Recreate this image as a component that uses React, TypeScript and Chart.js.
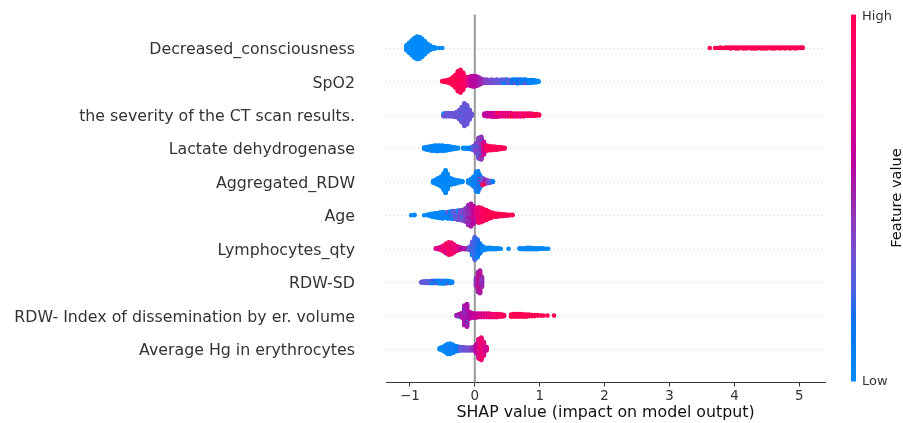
import React, { useEffect, useRef } from 'react';
import { Chart, registerables } from 'chart.js';

Chart.register(...registerables);

// Each bin: [SHAP value, number of samples at that value, normalised feature value (0 = low, 1 = high)]
type Bin = [number, number, number];

const featureNames: string[] = [
  'Decreased_consciousness',
  'SpO2',
  'the severity of the CT scan results.',
  'Lactate dehydrogenase',
  'Aggregated_RDW',
  'Age',
  'Lymphocytes_qty',
  'RDW-SD',
  'RDW- Index of dissemination by er. volume',
  'Average Hg in erythrocytes',
];

const decreasedConsciousness: Bin[] = [
  [-1.05, 12, 0], [-1.01, 22, 0], [-0.97, 32, 0], [-0.93, 42, 0], [-0.89, 48, 0], [-0.85, 46, 0],
  [-0.81, 38, 0], [-0.77, 28, 0], [-0.73, 18, 0], [-0.69, 10, 0], [-0.65, 5, 0], [-0.61, 3, 0],
  [-0.55, 1, 0], [-0.5, 1, 0],
  [3.62, 1, 1], [3.7, 1, 1], [3.74, 1, 1], [3.78, 2, 1], [3.82, 1, 1], [3.86, 2, 1], [3.9, 2, 1],
  [3.94, 3, 1], [3.98, 2, 1], [4.02, 3, 1], [4.06, 3, 1], [4.1, 2, 1], [4.14, 3, 1], [4.18, 3, 1],
  [4.22, 2, 1], [4.26, 3, 1], [4.3, 3, 1], [4.34, 3, 1], [4.38, 2, 1], [4.42, 3, 1], [4.46, 3, 1],
  [4.5, 3, 1], [4.54, 2, 1], [4.58, 3, 1], [4.62, 3, 1], [4.66, 2, 1], [4.7, 3, 1], [4.74, 2, 1],
  [4.78, 3, 1], [4.82, 2, 1], [4.86, 3, 1], [4.9, 2, 1], [4.94, 3, 1], [4.98, 2, 1], [5.02, 2, 1],
  [5.05, 2, 1],
];

const spo2: Bin[] = [
  [-0.5, 2, 1], [-0.46, 4, 1], [-0.42, 6, 1], [-0.38, 10, 1], [-0.34, 18, 1], [-0.3, 28, 1],
  [-0.26, 40, 1], [-0.26, 4, 0.65], [-0.22, 46, 0.97], [-0.22, 4, 0.7], [-0.18, 34, 0.95],
  [-0.18, 4, 0.75], [-0.14, 20, 0.9], [-0.1, 18, 0.75], [-0.06, 22, 0.62], [-0.02, 24, 0.6],
  [0.02, 22, 0.58], [0.06, 18, 0.55], [0.1, 12, 0.5], [0.14, 8, 0.45], [0.18, 8, 0.4],
  [0.22, 7, 0.38], [0.26, 8, 0.35], [0.3, 7, 0.35], [0.34, 8, 0.3], [0.38, 7, 0.32], [0.42, 8, 0.25],
  [0.46, 5, 0.3], [0.46, 3, 0.05], [0.5, 8, 0.22], [0.54, 7, 0.28], [0.58, 8, 0.15], [0.62, 5, 0.1],
  [0.62, 3, 0.35], [0.66, 9, 0.12], [0.7, 8, 0.2], [0.74, 8, 0.08], [0.78, 5, 0.1], [0.78, 3, 0.35],
  [0.82, 7, 0.08], [0.86, 7, 0.04], [0.9, 6, 0.08], [0.94, 5, 0.03], [0.98, 3, 0],
];

const ctSeverity: Bin[] = [
  [-0.48, 5, 0.32], [-0.48, 2, 0.02], [-0.44, 8, 0.32], [-0.4, 8, 0.3], [-0.36, 8, 0.32],
  [-0.32, 9, 0.32], [-0.28, 12, 0.32], [-0.24, 20, 0.32], [-0.2, 31, 0.32], [-0.2, 3, 0.02],
  [-0.16, 46, 0.32], [-0.16, 4, 0.02], [-0.12, 39, 0.32], [-0.12, 3, 0.02], [-0.08, 22, 0.32],
  [-0.05, 6, 0.32],
  [0.15, 6, 0.6], [0.19, 8, 0.62], [0.23, 8, 0.65], [0.27, 9, 0.65], [0.31, 9, 0.7], [0.35, 6, 0.72],
  [0.35, 3, 1], [0.39, 8, 0.8], [0.43, 8, 0.75], [0.47, 8, 0.85], [0.51, 8, 0.75], [0.55, 5, 0.8],
  [0.55, 3, 1], [0.59, 7, 0.9], [0.63, 7, 0.8], [0.67, 7, 0.92], [0.71, 7, 0.8], [0.75, 7, 0.95],
  [0.79, 6, 0.85], [0.83, 6, 0.95], [0.87, 6, 0.88], [0.91, 5, 0.95], [0.95, 4, 1], [0.99, 3, 1],
];

const lactateDehydrogenase: Bin[] = [
  [-0.78, 4, 0.02], [-0.74, 7, 0.02], [-0.7, 9, 0.02], [-0.66, 11, 0.05], [-0.62, 12, 0.02],
  [-0.58, 13, 0.02], [-0.54, 12, 0.05], [-0.5, 12, 0.02], [-0.46, 11, 0.02], [-0.42, 10, 0.05],
  [-0.38, 8, 0.02], [-0.34, 6, 0.02], [-0.3, 4, 0.02], [-0.26, 2, 0.02], [-0.18, 2, 0.02],
  [-0.14, 3, 0.02], [-0.1, 3, 0.05], [-0.06, 5, 0.1], [-0.02, 10, 0.3], [0.02, 18, 0.4],
  [0.02, 4, 0.05], [0.06, 40, 0.4], [0.06, 6, 0.05], [0.1, 42, 0.45], [0.1, 4, 0.05], [0.1, 4, 0.9],
  [0.14, 22, 0.65], [0.14, 6, 1], [0.18, 12, 0.95], [0.22, 10, 0.95], [0.26, 9, 1], [0.3, 8, 0.95],
  [0.34, 7, 1], [0.38, 6, 0.95], [0.42, 4, 1], [0.46, 2, 1],
];

const aggregatedRdw: Bin[] = [
  [-0.64, 5, 0.02], [-0.6, 10, 0.02], [-0.56, 16, 0.02], [-0.52, 22, 0.02], [-0.48, 36, 0.02],
  [-0.45, 50, 0.02], [-0.42, 34, 0.02], [-0.38, 16, 0.02], [-0.34, 12, 0.02], [-0.3, 9, 0.02],
  [-0.26, 6, 0.02], [-0.22, 4, 0.02], [-0.19, 2, 0.02],
  [-0.1, 6, 0.02], [-0.06, 12, 0.02], [-0.02, 22, 0.05], [0.02, 38, 0.05], [0.02, 4, 0.35],
  [0.05, 40, 0.05], [0.05, 6, 0.4], [0.08, 22, 0.1], [0.08, 6, 0.9], [0.12, 12, 0.3], [0.12, 4, 0.95],
  [0.16, 7, 0.5], [0.16, 3, 1], [0.2, 7, 0.4], [0.24, 5, 0.3], [0.28, 2, 0.1],
];

const age: Bin[] = [
  [-0.98, 1, 0.02], [-0.93, 2, 0.02], [-0.78, 1, 0.02], [-0.73, 2, 0.02], [-0.7, 4, 0.02],
  [-0.66, 7, 0.02], [-0.62, 9, 0.02], [-0.58, 11, 0.02], [-0.54, 13, 0.02], [-0.5, 12, 0.02],
  [-0.5, 3, 0.3], [-0.46, 13, 0.05], [-0.42, 11, 0.05], [-0.42, 4, 0.3], [-0.38, 16, 0.1],
  [-0.34, 12, 0.25], [-0.34, 6, 0.02], [-0.3, 18, 0.3], [-0.26, 15, 0.32], [-0.26, 6, 0.05],
  [-0.22, 22, 0.35], [-0.18, 19, 0.38], [-0.18, 6, 0.05], [-0.14, 30, 0.42], [-0.1, 36, 0.5],
  [-0.1, 8, 0.3], [-0.06, 42, 0.55], [-0.06, 8, 0.35], [-0.02, 32, 0.6], [-0.02, 8, 0.8],
  [0.02, 22, 0.78], [0.02, 8, 0.55], [0.06, 28, 0.88], [0.06, 6, 0.6], [0.1, 26, 0.92],
  [0.1, 6, 0.6], [0.14, 26, 0.95], [0.18, 22, 0.95], [0.22, 16, 1], [0.26, 12, 1], [0.3, 8, 1],
  [0.34, 7, 1], [0.38, 6, 1], [0.42, 5, 1], [0.46, 4, 1], [0.5, 3, 1], [0.54, 2, 1], [0.58, 2, 1],
];

const lymphocytesQty: Bin[] = [
  [-0.6, 2, 0.7], [-0.56, 4, 0.75], [-0.52, 8, 0.8], [-0.48, 14, 0.85], [-0.44, 16, 0.9],
  [-0.44, 6, 0.6], [-0.4, 22, 0.9], [-0.4, 6, 1], [-0.36, 20, 0.9], [-0.36, 6, 0.6],
  [-0.32, 18, 0.85], [-0.28, 12, 0.8], [-0.24, 6, 0.7], [-0.2, 4, 0.6], [-0.16, 3, 0.55],
  [-0.12, 3, 0.5],
  [-0.08, 8, 0.3], [-0.04, 22, 0.3], [-0.04, 8, 0.05], [0.0, 40, 0.25], [0.0, 10, 0.05],
  [0.04, 30, 0.2], [0.04, 10, 0.05], [0.08, 22, 0.15], [0.12, 10, 0.05],
  [0.16, 5, 0.02], [0.2, 4, 0.02], [0.24, 4, 0.02], [0.28, 3, 0.02], [0.32, 3, 0.02], [0.36, 2, 0.02],
  [0.4, 1, 0.02], [0.52, 1, 0.02], [0.69, 2, 0.02], [0.73, 3, 0.02], [0.77, 3, 0.02], [0.81, 4, 0.02],
  [0.85, 4, 0.02], [0.89, 3, 0.02], [0.93, 3, 0.02], [0.97, 3, 0.02], [1.01, 2, 0.02], [1.05, 2, 0.02],
  [1.09, 1, 0.02], [1.13, 1, 0.02],
];

const rdwSd: Bin[] = [
  [-0.82, 3, 0.3], [-0.78, 4, 0.3], [-0.74, 5, 0.3], [-0.7, 5, 0.25], [-0.66, 4, 0.25],
  [-0.66, 2, 0.05], [-0.62, 6, 0.2], [-0.58, 4, 0.1], [-0.58, 2, 0.3], [-0.54, 7, 0.05],
  [-0.5, 5, 0.05], [-0.5, 2, 0.25], [-0.46, 7, 0.05], [-0.42, 4, 0.05], [-0.42, 2, 0.3],
  [-0.38, 5, 0.05], [-0.35, 3, 0.05],
  [0.02, 14, 0.45], [0.02, 4, 0.3], [0.05, 36, 0.5], [0.05, 8, 0.9], [0.08, 40, 0.55],
  [0.08, 10, 0.95], [0.11, 18, 0.5], [0.11, 4, 0.3],
];

const rdwIndex: Bin[] = [
  [-0.28, 3, 0.5], [-0.24, 4, 0.55], [-0.24, 2, 0.35], [-0.2, 10, 0.55], [-0.16, 36, 0.55],
  [-0.16, 4, 0.05], [-0.12, 42, 0.55], [-0.12, 4, 0.05], [-0.08, 12, 0.6], [-0.08, 2, 0.1],
  [-0.05, 10, 0.6],
  [-0.02, 9, 0.62], [0.02, 9, 0.65], [0.06, 8, 0.68], [0.1, 8, 0.72], [0.14, 8, 0.74], [0.18, 8, 0.78],
  [0.22, 8, 0.8], [0.26, 7, 0.84], [0.3, 7, 0.86], [0.34, 7, 0.9], [0.38, 6, 0.9], [0.42, 5, 0.95],
  [0.45, 3, 0.95],
  [0.56, 5, 1], [0.6, 6, 1], [0.64, 6, 1], [0.68, 6, 1], [0.72, 6, 1], [0.76, 5, 1], [0.8, 5, 1],
  [0.84, 4, 1], [0.88, 3, 1], [0.92, 3, 1], [0.97, 2, 1], [1.02, 1, 1], [1.06, 1, 1], [1.12, 1, 1],
  [1.22, 1, 1],
];

const averageHg: Bin[] = [
  [-0.54, 4, 0.02], [-0.5, 8, 0.02], [-0.46, 14, 0.02], [-0.42, 18, 0.02], [-0.42, 3, 0.3],
  [-0.38, 22, 0.05], [-0.34, 15, 0.05], [-0.34, 3, 0.3], [-0.3, 12, 0.1], [-0.26, 10, 0.15],
  [-0.22, 8, 0.3], [-0.18, 8, 0.3], [-0.14, 7, 0.35], [-0.1, 7, 0.35], [-0.06, 7, 0.4],
  [-0.02, 8, 0.45], [0.02, 18, 0.6], [0.06, 34, 0.8], [0.06, 6, 0.45], [0.1, 40, 0.85],
  [0.1, 6, 1], [0.14, 24, 0.8], [0.14, 4, 0.45], [0.18, 8, 0.7],
];

const featureBins: Bin[][] = [
  decreasedConsciousness, spo2, ctSeverity, lactateDehydrogenase, aggregatedRdw,
  age, lymphocytesQty, rdwSd, rdwIndex, averageHg,
];

const xTickValues: number[] = [-1, 0, 1, 2, 3, 4, 5];
const xMin = -1.368;
const xMax = 5.395;

// shap "red_blue" colour map: LCH interpolation blue -> red with a darker middle
function shapRedBlue(tIn: number): string {
  const t = Math.min(1, Math.max(0, tIn));
  const blue = [54, 70, 4.6588];
  const red = [54, 90, 0.35470565 + 2 * Math.PI];
  const lMid = 40;
  const L = t < 0.5 ? blue[0] + (lMid - blue[0]) * (t / 0.5) : lMid + (red[0] - lMid) * ((t - 0.5) / 0.5);
  const C = blue[1] + (red[1] - blue[1]) * t;
  const H = blue[2] + (red[2] - blue[2]) * t;
  const a = C * Math.cos(H);
  const b = C * Math.sin(H);
  const fy = (L + 16) / 116;
  const fx = fy + a / 500;
  const fz = fy - b / 200;
  const d = 6 / 29;
  const finv = (f: number) => (f > d ? f * f * f : 3 * d * d * (f - 4 / 29));
  const X = 0.95047 * finv(fx);
  const Y = finv(fy);
  const Z = 1.08883 * finv(fz);
  const r = 3.2404542 * X - 1.5371385 * Y - 0.4985314 * Z;
  const g = -0.969266 * X + 1.8760108 * Y + 0.041556 * Z;
  const bl = 0.0556434 * X - 0.2040259 * Y + 1.0572252 * Z;
  const gam = (v: number) => {
    const s = v <= 0.0031308 ? 12.92 * v : 1.055 * Math.pow(v, 1 / 2.4) - 0.055;
    return Math.round(Math.min(1, Math.max(0, s)) * 255);
  };
  return `rgb(${gam(r)},${gam(g)},${gam(bl)})`;
}

// beeswarm layering as done by shap's summary plot
function swarmPoints(bins: Bin[], row: number) {
  const groups = new Map<number, Bin[]>();
  for (const b of bins) {
    const k = Math.round(b[0] * 1000);
    if (!groups.has(k)) groups.set(k, []);
    groups.get(k)!.push(b);
  }
  const raw: { x: number; ys: number; c: number }[] = [];
  let maxYs = 1;
  for (const group of groups.values()) {
    const total = group.reduce((s, b) => s + b[1], 0);
    const used = group.map(() => 0);
    for (let layer = 0; layer < total; layer++) {
      let best = 0;
      let bestScore = Infinity;
      group.forEach((b, i) => {
        if (used[i] < b[1]) {
          const score = (used[i] + 0.5) / b[1];
          if (score < bestScore) {
            bestScore = score;
            best = i;
          }
        }
      });
      used[best]++;
      const ys = Math.ceil(layer / 2) * (layer % 2 === 1 ? 1 : -1);
      raw.push({ x: group[best][0], ys, c: group[best][2] });
      maxYs = Math.max(maxYs, ys + 1);
    }
  }
  const scale = (0.9 * 0.4) / maxYs;
  return raw.map((p) => ({ x: p.x, y: row + p.ys * scale, color: shapRedBlue(p.c) }));
}

const FONT = 'DejaVu Sans';

const guidesPlugin = {
  id: 'shapGuides',
  beforeDatasetsDraw(chart: any) {
    const { ctx, chartArea, scales } = chart;
    ctx.save();
    ctx.strokeStyle = '#cccccc';
    ctx.lineWidth = 0.8;
    ctx.setLineDash([1, 3]);
    for (let i = 0; i < featureNames.length; i++) {
      const y = Math.round(scales.y.getPixelForValue(i)) + 0.5;
      ctx.beginPath();
      ctx.moveTo(chartArea.left, y);
      ctx.lineTo(chartArea.right, y);
      ctx.stroke();
    }
    ctx.setLineDash([]);
    const x0 = scales.x.getPixelForValue(0);
    ctx.strokeStyle = '#999999';
    ctx.lineWidth = 2;
    ctx.beginPath();
    ctx.moveTo(x0, chartArea.top);
    ctx.lineTo(x0, chartArea.bottom);
    ctx.stroke();
    ctx.restore();
  },
};

const colorbarPlugin = {
  id: 'shapColorbar',
  afterDraw(chart: any) {
    const { ctx, chartArea } = chart;
    const left = chartArea.right + 26;
    const width = 5;
    const top = chartArea.top;
    const bottom = chartArea.bottom - 1;
    ctx.save();
    const grad = ctx.createLinearGradient(0, bottom, 0, top);
    for (let i = 0; i <= 20; i++) grad.addColorStop(i / 20, shapRedBlue(i / 20));
    ctx.fillStyle = grad;
    ctx.fillRect(left, top, width, bottom - top);
    ctx.fillStyle = '#333333';
    ctx.font = `13px "${FONT}"`;
    ctx.textAlign = 'left';
    ctx.textBaseline = 'middle';
    ctx.fillText('High', left + width + 6, top + 2);
    ctx.fillText('Low', left + width + 6, bottom);
    ctx.fillStyle = '#111111';
    ctx.font = `14.6px "${FONT}"`;
    ctx.translate(chart.width - 6, (top + bottom) / 2);
    ctx.rotate(-Math.PI / 2);
    ctx.textAlign = 'center';
    ctx.textBaseline = 'middle';
    ctx.fillText('Feature value', 0, 0);
    ctx.restore();
  },
};

export default function App() {
  const canvasRef = useRef<HTMLCanvasElement | null>(null);

  useEffect(() => {
    if (!canvasRef.current) return;
    const n = featureNames.length;
    const datasets = featureBins.map((bins, i) => ({
      label: featureNames[i],
      data: swarmPoints(bins, n - 1 - i),
      pointBackgroundColor: (c: any) => (c.raw ? c.raw.color : '#000'),
      pointBorderWidth: 0,
      pointRadius: 2.3,
      pointHoverRadius: 2.3,
    }));

    const chart = new Chart(canvasRef.current, {
      type: 'scatter',
      data: { datasets: datasets as any },
      plugins: [guidesPlugin, colorbarPlugin],
      options: {
        animation: false,
        responsive: false,
        devicePixelRatio: 1,
        events: [],
        layout: { padding: { left: 0, right: 78, top: 14.6, bottom: 0 } },
        plugins: { legend: { display: false }, tooltip: { enabled: false } },
        scales: {
          x: {
            type: 'linear',
            min: xMin,
            max: xMax,
            afterBuildTicks: (s: any) => {
              s.ticks = xTickValues.map((v) => ({ value: v }));
            },
            afterFit: (s: any) => {
              s.height = 40.5;
              s.paddingLeft = 0;
              s.paddingRight = 0;
            },
            grid: {
              display: true,
              drawOnChartArea: false,
              drawTicks: true,
              tickLength: 4,
              color: '#333333',
              lineWidth: 1,
            },
            border: { display: true, color: '#333333', width: 1 },
            ticks: {
              padding: 2,
              color: '#333333',
              font: { family: FONT, size: 13.4 },
              callback: (v: any) => (Number(v) < 0 ? '\u2212' + Math.abs(Number(v)) : String(v)),
            },
            title: {
              display: true,
              text: 'SHAP value (impact on model output)',
              color: '#111111',
              font: { family: FONT, size: 15.8 },
              padding: { top: 0, bottom: 0.5 },
            },
          },
          y: {
            type: 'linear',
            min: -1,
            max: n,
            afterBuildTicks: (s: any) => {
              s.ticks = featureNames.map((_, i) => ({ value: i }));
            },
            afterFit: (s: any) => {
              s.width = 386;
              s.paddingTop = 0;
              s.paddingBottom = 0;
            },
            grid: { display: false, drawTicks: false },
            border: { display: false },
            ticks: {
              padding: 31,
              labelOffset: 2,
              color: '#333333',
              font: { family: FONT, size: 15.8 },
              callback: (v: any) => featureNames[n - 1 - Number(v)] ?? '',
            },
          },
        },
      },
    });
    return () => chart.destroy();
  }, []);

  return (
    <div style={{ position: 'absolute', left: 0, top: 0, width: 903, height: 423, background: '#ffffff' }}>
      <canvas ref={canvasRef} width={903} height={423} style={{ display: 'block' }} />
    </div>
  );
}
